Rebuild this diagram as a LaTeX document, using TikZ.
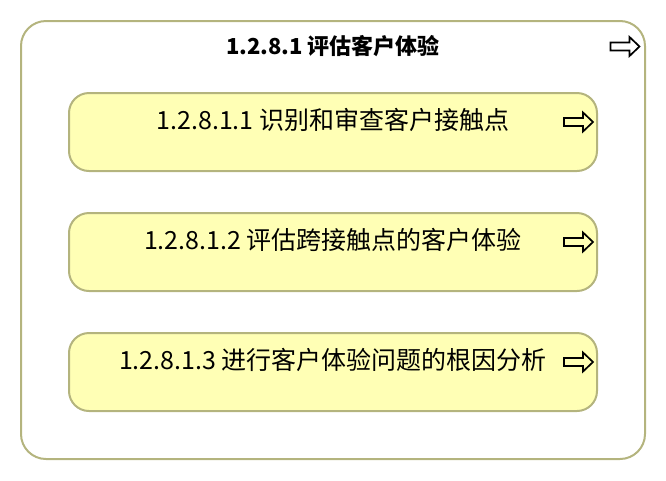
\documentclass[tikz,border=0pt]{standalone}
\usepackage{fontspec}
\setmainfont{Noto Sans CJK SC}
\usetikzlibrary{positioning}
\definecolor{olive}{HTML}{B4B47E}
\definecolor{paleyellow}{HTML}{FFFFB5}

\begin{document}
\begin{tikzpicture}[x=1pt,y=-1pt,node distance=120pt,
        fwdarrow/.pic={
            \draw[line width=1.7pt, line join=miter] (-14.5,-4) -- (4.5,-4) -- (4.5,-9.5) -- (14.5,0) -- (4.5,9.5) -- (4.5,4) -- (-14.5,4) -- cycle;
        }]
        \tikzstyle{frame} = [rectangle, draw=olive, line width=2pt, rounded corners=25pt, minimum width=624pt, minimum height=438pt, inner sep=0pt]
        \tikzstyle{block} = [rectangle, draw=olive, fill=paleyellow, line width=2pt, rounded corners=20pt, minimum width=528pt, minimum height=78pt, inner sep=0pt]
        \tikzstyle{heading} = [font=\fontsize{22}{26}\selectfont\bfseries, inner sep=0pt]
        \tikzstyle{blocktext} = [font=\fontsize{25}{30}\selectfont, inner sep=0pt]
        \useasboundingbox (0,0) rectangle (666,480);

        % Outer frame
        \node[frame] (outer) at (333,240) {};
        \node[heading] (title) at ([yshift=-26pt]outer.north) {1.2.8.1 评估客户体验};
        \pic at ([xshift=-21pt, yshift=-26.5pt]outer.north east) {fwdarrow};

        % Nodes
        \node[block] (identify) at (333,132) {};
        \node[block, below of=identify] (assess) {};
        \node[block, below of=assess] (rootcause) {};

        % Texts
        \node[blocktext] (identifytext) at ([yshift=12pt]identify.center) {1.2.8.1.1 识别和审查客户接触点};
        \node[blocktext] (assesstext) at ([yshift=12pt]assess.center) {1.2.8.1.2 评估跨接触点的客户体验};
        \node[blocktext] (rootcausetext) at ([yshift=12pt]rootcause.center) {1.2.8.1.3 进行客户体验问题的根因分析};

        % Arrow icons
        \pic at ([xshift=-19.5pt, yshift=10pt]identify.east) {fwdarrow};
        \pic at ([xshift=-19.5pt, yshift=10pt]assess.east) {fwdarrow};
        \pic at ([xshift=-19.5pt, yshift=10pt]rootcause.east) {fwdarrow};
    \end{tikzpicture}
\end{document}
